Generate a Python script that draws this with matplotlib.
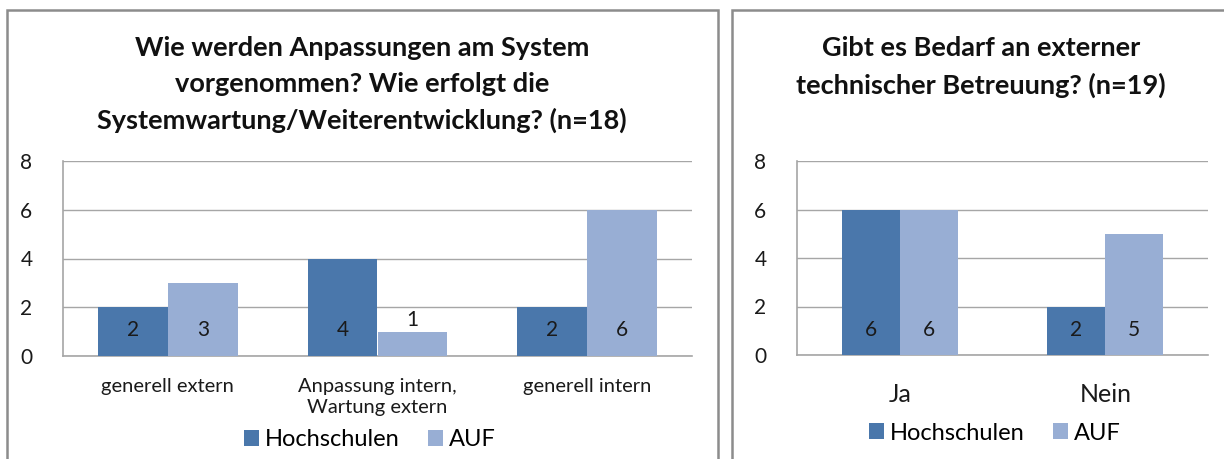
import matplotlib
matplotlib.use("Agg")
import matplotlib.pyplot as plt
from matplotlib.patches import Rectangle, Patch
import numpy as np

plt.rcParams['font.family'] = ['Lato', 'DejaVu Sans']

# Data
left_title = "Wie werden Anpassungen am System\nvorgenommen? Wie erfolgt die\nSystemwartung/Weiterentwicklung? (n=18)"
left_categories = ["generell extern", "Anpassung intern,\nWartung extern", "generell intern"]
left_hochschulen = [2, 4, 2]
left_auf = [3, 1, 6]

right_title = "Gibt es Bedarf an externer\ntechnischer Betreuung? (n=19)"
right_categories = ["Ja", "Nein"]
right_hochschulen = [6, 2]
right_auf = [6, 5]

series_names = ["Hochschulen", "AUF"]
yticks = [0, 2, 4, 6, 8]

C_H = "#4A77AB"
C_A = "#98AED4"
GRID = "#A6A6A6"

W, H = 1224, 459
fig = plt.figure(figsize=(W / 100, H / 100), dpi=100)

def px(x0, y0, x1, y1):
    return [x0 / W, 1 - y1 / H, (x1 - x0) / W, (y1 - y0) / H]

# panel borders
for (x0, x1) in [(7, 718), (732, 1240)]:
    fig.patches.append(Rectangle((x0 / W, -0.2), (x1 - x0) / W, 1.2 - 10 / H,
                                 transform=fig.transFigure, fill=False,
                                 edgecolor="#8C8C8C", linewidth=1.8))

def panel(rect, cats, hs, au, width, title, title_xy, legend_xy, cat_fs, cat_pad):
    ax = fig.add_axes(px(*rect))
    x = np.arange(len(cats))
    b1 = ax.bar(x - width / 2, hs, width, color=C_H, zorder=3)
    b2 = ax.bar(x + width / 2, au, width, color=C_A, zorder=3)
    ax.set_xlim(-0.5, len(cats) - 0.5)
    ax.set_ylim(0, 8)
    ax.set_yticks(yticks)
    ax.set_yticklabels([str(t) for t in yticks], fontsize=15, color="#1a1a1a")
    ax.yaxis.grid(True, color=GRID, linewidth=1.0, zorder=0)
    ax.set_axisbelow(True)
    for s in ["right", "top"]:
        ax.spines[s].set_visible(False)
    for s in ["left", "bottom"]:
        ax.spines[s].set_color(GRID)
        ax.spines[s].set_linewidth(1.2)
    ax.tick_params(axis="y", length=0, pad=22)
    ax.tick_params(axis="x", length=0, pad=cat_pad)
    ax.set_xticks(x)
    ax.set_xticklabels(cats, fontsize=cat_fs, color="#1a1a1a", linespacing=1.25)
    for bars, vals in [(b1, hs), (b2, au)]:
        for b, v in zip(bars, vals):
            cx = b.get_x() + b.get_width() / 2
            if v >= 1.6:
                ax.text(cx, 1.05, str(v), ha="center", va="center", fontsize=15, color="#1a1a1a", zorder=4)
            else:
                ax.text(cx, v + 0.05, str(v), ha="center", va="bottom", fontsize=15, color="#1a1a1a", zorder=4)
    fig.text(title_xy[0] / W, 1 - title_xy[1] / H, title, ha="center", va="top",
             fontsize=19.5, fontweight="bold", linespacing=1.58, color="#111111")
    handles = [Patch(facecolor=C_H, label=series_names[0]), Patch(facecolor=C_A, label=series_names[1])]
    fig.legend(handles=handles, loc="center", bbox_to_anchor=(legend_xy[0] / W, 1 - legend_xy[1] / H),
               ncol=2, frameon=False, fontsize=17, handlelength=0.65, handleheight=0.65,
               handletextpad=0.25, columnspacing=1.2)
    return ax

panel((63, 161, 692, 356), left_categories, left_hochschulen, left_auf, 1 / 3,
      left_title, (362, 36), (370, 440), 14.5, 16)
panel((797, 161, 1208, 355), right_categories, right_hochschulen, right_auf, 0.283,
      right_title, (981, 36), (995, 433), 18, 20)

fig.savefig("out.png", dpi=100)
